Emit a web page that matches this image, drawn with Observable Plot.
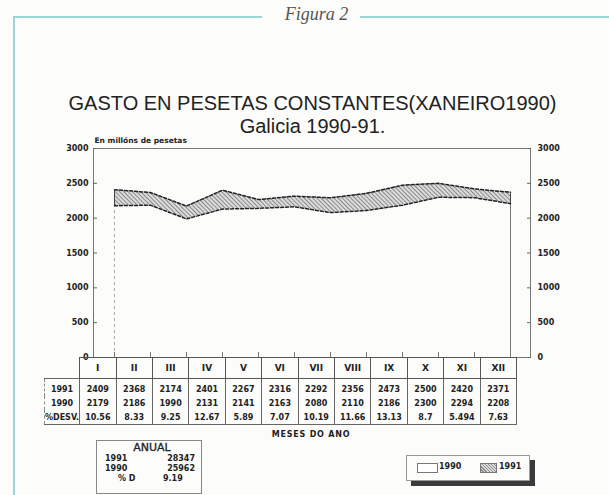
<!DOCTYPE html>
<html>
<head>
<meta charset="utf-8">
<script src="https://cdn.jsdelivr.net/npm/d3@7"></script>
<script src="https://cdn.jsdelivr.net/npm/@observablehq/plot@0.6"></script>
<style>
  html, body { margin:0; padding:0; }
  body { width:609px; height:495px; background:#fcfcfa; position:relative; overflow:hidden; font-family:"DejaVu Sans", sans-serif; color:#222; }
  .abs { position:absolute; }
  #tbl { border-collapse:collapse; table-layout:fixed; font-weight:bold; font-size:8px; }
  #tbl td { padding:0; text-align:center; }
  .hd td.c { border:1px solid #555; height:20px; font-size:9px; }
  .dr td { border-left:1px solid #666; border-right:1px solid #666; height:14px; }
  .dr td.l { text-align:left; padding-left:4px; border-left:1px dashed #888; }
  .r1 td { border-top:1px solid #666; padding-top:3px !important; }
  .r3 td { border-bottom:1px solid #666; }
</style>
</head>
<body>
<div class="abs" style="left:13px;top:16px;width:249px;height:1.5px;background:#9ed6d8"></div>
<div class="abs" style="left:360px;top:16px;width:249px;height:1.5px;background:#9ed6d8"></div>
<div class="abs" style="left:13px;top:16px;width:1.5px;height:479px;background:#9ed6d8"></div>
<div class="abs" style="left:0;width:609px;top:4px;text-align:center;font-family:'Liberation Serif',serif;font-style:italic;font-size:18px;color:#555;padding-left:12px;">Figura 2</div>
<div class="abs" id="title" style="left:0;width:609px;top:92px;text-align:center;font-family:'Liberation Sans',Arial,sans-serif;font-size:20px;color:#222;line-height:23px;padding-left:8px;">GASTO EN PESETAS CONSTANTES(XANEIRO1990)<br>Galicia 1990-91.</div>
<div class="abs" id="chart" style="left:0;top:128px;"></div>
<div class="abs" id="tablewrap" style="left:44px;top:357px;"></div>
<div class="abs" style="left:0;width:622px;top:430px;text-align:center;font-weight:bold;font-size:8px;letter-spacing:0.8px;">MESES DO ANO</div>
<div class="abs" id="anual" style="left:96px;top:440px;width:104px;height:52px;border:1px solid #888;font-size:8px;font-weight:bold;"></div>
<div class="abs" id="legend" style="left:406px;top:455px;width:122px;height:24px;border:1px solid #999;background:#fcfcfa;box-shadow:5px 5px 0 #3a3a3a;font-size:8px;font-weight:bold;"></div>
<script>
const months = ["I","II","III","IV","V","VI","VII","VIII","IX","X","XI","XII"];
const v1991 = [2409, 2368, 2174, 2401, 2267, 2316, 2292, 2356, 2473, 2500, 2420, 2371];
const v1990 = [2179, 2186, 1990, 2131, 2141, 2163, 2080, 2110, 2186, 2300, 2294, 2208];
const desv = ["10.56", "8.33", "9.25", "12.67", "5.89", "7.07", "10.19", "11.66", "13.13", "8.7", "5.494", "7.63"];
const yTicks = [0, 500, 1000, 1500, 2000, 2500, 3000];
const rowLabels = ["1991", "1990", "%DESV."];
const anualYears = ["1991", "1990", "% D"];
const anualValues = ["28347", "25962", "9.19"];
const legendLabels = ["1990", "1991"];

const data = months.map((m, i) => ({m, a: v1990[i], b: v1991[i]}));
const edges = [data[0], data[data.length - 1]];

const axisFont = {fontSize: 8, fontWeight: "bold"};
const plot = Plot.plot({
  width: 609, height: 232,
  marginTop: 20, marginBottom: 3, marginLeft: 93, marginRight: 79,
  style: {fontFamily: "DejaVu Sans", background: "transparent", color: "#222", overflow: "visible"},
  x: {type: "point", domain: months, padding: 0.5},
  y: {domain: [0, 3000]},
  marks: [
    Plot.ruleX([edges[0]], {x: "m", y1: 0, y2: "a", stroke: "#aaa", strokeDasharray: "3,3"}),
    Plot.ruleX([edges[1]], {x: "m", y1: 0, y2: "a", stroke: "#777"}),
    Plot.areaY(data, {x: "m", y1: "a", y2: "b", fill: "url(#hatch)"}),
    Plot.lineY(data, {x: "m", y: "a", stroke: "#222", strokeDasharray: "3,2"}),
    Plot.lineY(data, {x: "m", y: "b", stroke: "#222", strokeDasharray: "3,2"}),
    Plot.ruleX([edges[0]], {x: "m", y1: "a", y2: "b", stroke: "#444"}),
    Plot.ruleX([edges[1]], {x: "m", y1: "a", y2: "b", stroke: "#444"}),
    Plot.frame({stroke: "#777"}),
    Plot.axisY({anchor: "left", ticks: yTicks, tickFormat: "d", tickSize: -4, tickPadding: 9, label: null, stroke: "#666", ...axisFont}),
    Plot.axisY({anchor: "right", ticks: yTicks, tickFormat: "d", tickSize: -4, tickPadding: 11, label: null, stroke: "#666", ...axisFont}),
    Plot.axisX({anchor: "bottom", tickSize: -5, tickFormat: () => "", label: null, stroke: "#777"}),
    Plot.text(["En millóns de pesetas"], {frameAnchor: "top-left", dy: -11, dx: 1, textAnchor: "start", fontSize: 7.5, fontWeight: "bold", letterSpacing: 0.5})
  ]
});

const svg = d3.select(plot);
const pat = svg.insert("defs", ":first-child").append("pattern")
  .attr("id", "hatch").attr("patternUnits", "userSpaceOnUse")
  .attr("width", 3).attr("height", 3).attr("patternTransform", "rotate(-45)");
pat.append("rect").attr("width", 3).attr("height", 3).attr("fill", "#dcdcdc");
pat.append("line").attr("x1", 0.5).attr("y1", 0).attr("x2", 0.5).attr("y2", 3).attr("stroke", "#8a8a8a").attr("stroke-width", 1);
document.getElementById("chart").appendChild(plot);

// table aligned with the x scale
const xs = plot.scale("x");
const step = (xs.range[1] - xs.range[0]) / (months.length - 1 + 2 * xs.padding);
const labelW = xs.range[0] - xs.padding * step - 44;
let html = `<table id="tbl"><colgroup><col style="width:${labelW}px">` +
  months.map(() => `<col style="width:${step}px">`).join("") + `</colgroup>`;
html += `<tr class="hd"><td></td>` + months.map(m => `<td class="c">${m}</td>`).join("") + `</tr>`;
const rows = [v1991, v1990, desv];
rows.forEach((r, k) => {
  html += `<tr class="dr r${k + 1}"><td class="l">${rowLabels[k]}</td>` + r.map(v => `<td>${v}</td>`).join("") + `</tr>`;
});
html += `</table>`;
document.getElementById("tablewrap").innerHTML = html;

// annual box
let a = `<div style="text-align:center;font-size:11px;font-weight:normal;-webkit-text-stroke:0.3px #222;line-height:12px;margin-top:1px;padding-left:6px;">ANUAL</div>`;
anualYears.forEach((y, i) => {
  a += `<div style="position:relative;height:10px;line-height:10px;">` +
    `<span style="position:absolute;left:${i === 2 ? 21 : 8}px;">${y}</span>` +
    `<span style="position:absolute;${i === 2 ? "left:66px" : "right:6px"};">${anualValues[i]}</span></div>`;
});
document.getElementById("anual").innerHTML = a;

// legend
const sw = [
  "background:#fff;border:1px solid #777;",
  "background:repeating-linear-gradient(45deg,#dcdcdc 0 1.3px,#8a8a8a 1.3px 2.2px);border:1px solid #777;"
];
document.getElementById("legend").innerHTML = legendLabels.map((l, i) =>
  `<span style="position:absolute;left:${i === 0 ? 10 : 73}px;top:7px;width:${i === 0 ? 19 : 15}px;height:8px;${sw[i]}"></span>` +
  `<span style="position:absolute;left:${i === 0 ? 32 : 92}px;top:6px;line-height:10px;">${l}</span>`
).join("");
</script>
</body>
</html>
